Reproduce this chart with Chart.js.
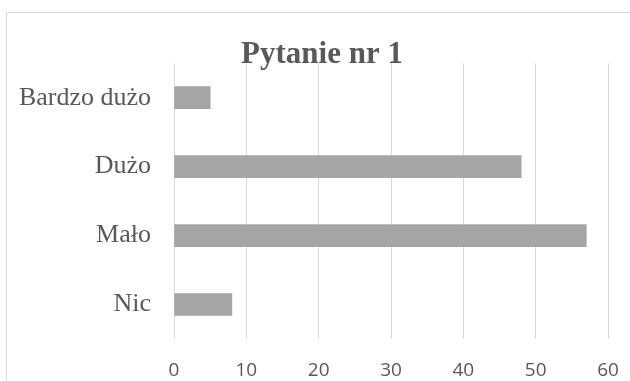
<!DOCTYPE html>
<html>
<head>
<meta charset="utf-8">
<script src="https://cdn.jsdelivr.net/npm/chart.js@4.4.1/dist/chart.umd.min.js"></script>
<style>
  body { margin: 0; background: #fff; overflow: hidden; }
  #frame { position: absolute; left: 6px; top: 12px; width: 700px; height: 500px; border: 1px solid #d9d9d9; }
  #myChart { position: absolute; left: 0; top: 0; }
</style>
</head>
<body>
<div id="frame"></div>
<canvas id="myChart" width="630" height="381"></canvas>
<script>
var categories = ['Bardzo dużo', 'Dużo', 'Mało', 'Nic'];
var values = [5, 48, 57, 8];
var xTicks = [0, 10, 20, 30, 40, 50, 60];

// title in the reference sits a bit right of the canvas centre
var shiftTitle = {
  id: 'shiftTitle',
  afterLayout: function(chart) {
    if (chart.titleBlock) {
      chart.titleBlock.left = 36;
      chart.titleBlock.right = 608;
    }
  }
};

var ctx = document.getElementById('myChart').getContext('2d');
var myChart = new Chart(ctx, {
    type: 'bar',
    data: {
        labels: categories,
        datasets: [{
            label: 'Pytanie nr 1',
            data: values,
            backgroundColor: '#a5a5a5',
            borderWidth: 0,
            barThickness: 22
        }]
    },
    plugins: [shiftTitle],
    options: {
      indexAxis: 'y',
      responsive: false,
      animation: false,
      layout: {
        padding: { left: 0, right: 22, top: 0, bottom: 0 }
      },
      plugins: {
        legend: { display: false },
        tooltip: { enabled: false },
        title: {
          display: true,
          text: 'Pytanie nr 1',
          color: '#595959',
          font: { family: '"Liberation Serif", "Times New Roman", serif', size: 31, weight: 'bold' },
          padding: { top: 36, bottom: -10 }
        }
      },
      scales: {
        x: {
          min: xTicks[0],
          max: xTicks[xTicks.length - 1],
          afterBuildTicks: function(scale) {
            scale.ticks = xTicks.map(function(v) { return { value: v }; });
          },
          afterFit: function(scale) { scale.height = 42; },
          // invisible tick marks give the gap below the plot
          grid: { color: '#d9d9d9', lineWidth: 1, drawTicks: true, tickLength: 20, tickColor: 'rgba(0,0,0,0)' },
          border: { display: false },
          ticks: {
            color: '#595959',
            padding: 0,
            font: { family: '"Open Sans", sans-serif', size: 19 }
          }
        },
        y: {
          afterFit: function(scale) { scale.width = 174; },
          grid: { display: false, drawTicks: false },
          border: { display: false },
          ticks: {
            color: '#595959',
            padding: 23,
            font: { family: '"Liberation Serif", "Times New Roman", serif', size: 26 }
          }
        }
      }
    }
});
</script>
</body>
</html>
